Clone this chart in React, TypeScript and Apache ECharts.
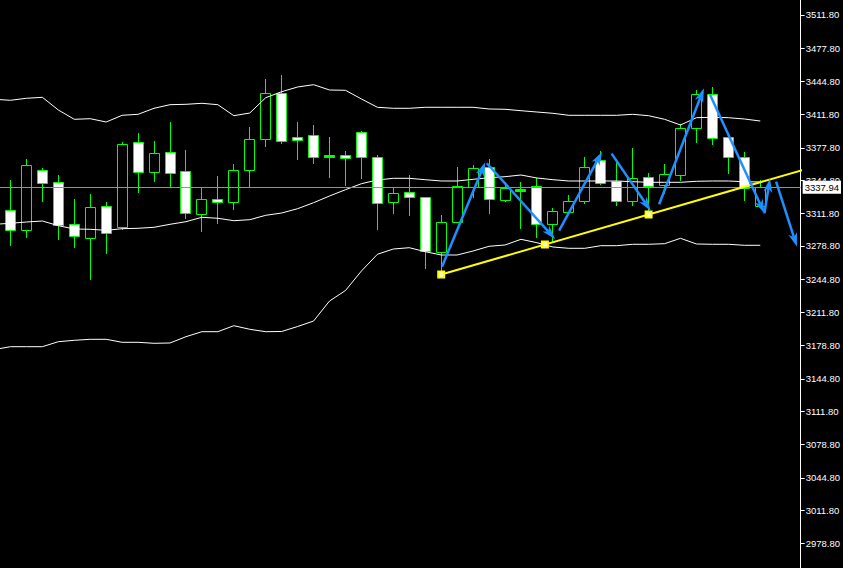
import React, { useEffect, useRef } from "react";
import * as echarts from "echarts";

// ---- Candles (index 0..47) ----
const opens = [3314.76, 3294.58, 3355.11, 3343.01, 3300.63, 3287.11, 3318.79, 3298.22, 3383.36, 3353.70, 3373.27, 3354.11, 3311.33, 3325.86, 3322.83, 3355.72, 3386.39, 3432.80, 3388.71, 3390.43, 3370.00, 3370.55, 3393.45, 3368.23, 3323.43, 3332.92, 3327.87, 3272.99, 3303.26, 3338.57, 3358.14, 3325.45, 3335.24, 3338.97, 3301.24, 3313.35, 3324.44, 3365.20, 3344.02, 3324.44, 3348.05, 3339.98, 3350.07, 3397.49, 3431.79, 3388.41, 3368.23, 3319.40];
const closes = [3294.58, 3360.16, 3342.00, 3300.23, 3288.53, 3317.79, 3291.55, 3381.35, 3353.10, 3372.27, 3352.69, 3311.73, 3325.86, 3322.83, 3355.11, 3386.39, 3432.80, 3384.98, 3385.99, 3368.84, 3370.00, 3367.83, 3368.84, 3322.43, 3331.91, 3327.87, 3274.00, 3302.95, 3338.97, 3357.13, 3325.86, 3336.95, 3335.24, 3301.24, 3313.75, 3323.84, 3358.14, 3342.60, 3324.44, 3347.04, 3338.97, 3351.08, 3397.49, 3431.79, 3387.40, 3368.23, 3336.95, 3337.94];
const lows = [3279.04, 3287.11, 3323.43, 3285.10, 3277.03, 3244.74, 3270.97, 3295.19, 3332.51, 3343.61, 3337.96, 3305.98, 3293.17, 3301.24, 3315.06, 3338.27, 3378.92, 3381.65, 3365.51, 3361.47, 3347.35, 3339.27, 3346.34, 3294.88, 3311.03, 3309.31, 3255.54, 3250.49, 3302.25, 3326.87, 3311.03, 3323.13, 3295.89, 3286.51, 3283.08, 3313.04, 3321.11, 3340.28, 3319.40, 3319.40, 3313.35, 3331.51, 3344.32, 3382.96, 3380.64, 3351.08, 3324.44, 3319.40];
const highs = [3345.03, 3366.51, 3357.13, 3350.37, 3326.16, 3331.20, 3323.13, 3383.67, 3392.75, 3384.68, 3403.84, 3375.59, 3337.96, 3349.36, 3361.47, 3398.80, 3447.23, 3451.26, 3403.84, 3400.82, 3388.71, 3374.59, 3394.76, 3370.55, 3337.56, 3350.37, 3328.18, 3310.02, 3358.44, 3360.46, 3366.51, 3343.61, 3343.31, 3347.04, 3317.38, 3330.19, 3368.53, 3374.59, 3366.51, 3377.61, 3352.09, 3361.17, 3401.52, 3436.13, 3439.16, 3388.41, 3373.27, 3345.03];

// ---- Bollinger bands (bar index -1..47) ----
const BAND_START = -1;
const bbUpper = [3426.75, 3425.74, 3427.76, 3428.76, 3415.95, 3406.57, 3407.17, 3403.84, 3410.60, 3411.61, 3417.67, 3421.30, 3421.70, 3422.71, 3421.30, 3410.20, 3412.92, 3428.36, 3434.41, 3439.16, 3441.48, 3436.13, 3435.83, 3427.05, 3418.68, 3417.67, 3417.67, 3418.68, 3418.68, 3418.68, 3418.68, 3416.96, 3416.66, 3415.24, 3413.93, 3412.62, 3410.60, 3410.60, 3410.60, 3410.60, 3411.61, 3410.20, 3406.57, 3400.82, 3408.18, 3408.59, 3408.18, 3406.87, 3404.85];
const bbMiddle = [3300.63, 3301.64, 3302.95, 3303.96, 3299.22, 3295.89, 3295.59, 3294.58, 3296.19, 3296.60, 3297.61, 3300.63, 3303.26, 3307.70, 3306.69, 3304.27, 3305.27, 3309.71, 3312.03, 3316.37, 3322.43, 3329.19, 3335.54, 3341.60, 3345.33, 3347.04, 3347.04, 3345.63, 3344.32, 3344.32, 3346.03, 3347.65, 3348.66, 3350.37, 3347.35, 3345.63, 3344.32, 3344.32, 3344.32, 3344.32, 3343.61, 3343.01, 3343.01, 3343.01, 3344.02, 3344.32, 3344.32, 3343.61, 3343.31];
const bbLower = [3174.32, 3177.14, 3177.14, 3177.14, 3182.19, 3183.60, 3184.61, 3184.61, 3181.58, 3181.58, 3180.57, 3180.88, 3187.23, 3192.28, 3192.28, 3198.33, 3194.70, 3192.28, 3192.48, 3197.52, 3203.07, 3223.25, 3233.84, 3253.52, 3270.37, 3275.71, 3277.03, 3272.99, 3269.66, 3269.66, 3273.70, 3278.44, 3279.75, 3285.50, 3282.07, 3277.73, 3276.42, 3276.42, 3279.04, 3279.04, 3280.46, 3280.46, 3281.06, 3286.51, 3280.76, 3280.46, 3280.46, 3279.45, 3279.45];

// ---- Current price ----
const currentPrice = 3337.94;

// ---- Trend line anchors [bar index, price] ----
const trendAnchors = [
  [27, 3250.0],
  [40, 3310.5],
];

// ---- Blue arrows [fromIndex, fromPrice, toIndex, toPrice] ----
const arrows = [
  [27.05, 3257.9, 29.76, 3363.2],
  [29.86, 3362.2, 34.14, 3285.8],
  [34.39, 3294.2, 37.09, 3373.9],
  [37.68, 3371.9, 40.14, 3314.1],
  [40.66, 3320.8, 43.47, 3437.9],
  [43.86, 3431.1, 47.26, 3311.7],
  [47.26, 3311.7, 47.61, 3347.0],
  [47.99, 3343.6, 49.3, 3278.0],
];

// ---- Price axis ticks ----
const yTicks = [2978.8, 3011.8, 3044.8, 3078.8, 3111.8, 3144.8, 3178.8, 3211.8, 3244.8, 3278.8, 3311.8, 3344.8, 3377.8, 3411.8, 3444.8, 3477.8, 3511.8];

const X_MIN = -0.65625;
const X_MAX = 49.53125;
const Y_MIN = 2953.87;
const Y_MAX = 3526.93;

const GREEN = "#00ff00";
const BLUE = "#1e90ff";
const YELLOW = "#ffff00";

export default function App() {
  const ref = useRef<HTMLDivElement>(null);

  useEffect(() => {
    if (!ref.current) return;
    const chart = echarts.init(ref.current, undefined, { renderer: "svg" });

    const candles = opens.map((o, i) => [i, o, closes[i], lows[i], highs[i]]);
    const band = (arr: number[]) => arr.map((v, k) => [k + BAND_START, v]);

    const [a0, a1] = trendAnchors;
    const slope = (a1[1] - a0[1]) / (a1[0] - a0[0]);
    const trendEndX = X_MAX + 0.5;
    const trendLine = [a0, [trendEndX, a0[1] + slope * (trendEndX - a0[0])]];
    const trendMarkers = [a0, [(a0[0] + a1[0]) / 2, (a0[1] + a1[1]) / 2], a1];

    const option: any = {
      animation: false,
      backgroundColor: "#000000",
      grid: { left: 0, right: 40, top: 0, bottom: 0, containLabel: false },
      xAxis: { type: "value", min: X_MIN, max: X_MAX, show: false },
      yAxis: {
        type: "value",
        position: "right",
        min: Y_MIN,
        max: Y_MAX,
        scale: true,
        splitLine: { show: false },
        axisLine: { show: true, onZero: false, lineStyle: { color: "#ffffff", width: 1 } },
        axisTick: {
          show: true,
          length: 4,
          inside: false,
          customValues: yTicks,
          lineStyle: { color: "#ffffff" },
        },
        axisLabel: {
          show: true,
          customValues: yTicks,
          formatter: (v: number) => v.toFixed(2),
          color: "#ffffff",
          fontSize: 9.5,
          fontFamily: "Liberation Sans",
          margin: 5,
        },
      },
      series: [
        {
          type: "line",
          data: [
            [X_MIN, currentPrice],
            [X_MAX, currentPrice],
          ],
          showSymbol: false,
          lineStyle: { width: 0, opacity: 0 },
          silent: true,
          z: 1,
          markLine: {
            silent: true,
            symbol: ["none", "none"],
            lineStyle: { color: "#8c939b", width: 1, type: "solid" },
            label: {
              show: true,
              position: "end",
              distance: 2,
              formatter: currentPrice.toFixed(2),
              color: "#000000",
              backgroundColor: "#ffffff",
              padding: [2, 2, 1, 2],
              fontSize: 9.5,
              fontFamily: "Liberation Sans",
            },
            data: [{ yAxis: currentPrice }],
          },
        },
        {
          type: "custom",
          z: 3,
          encode: { x: 0, y: [1, 2, 3, 4] },
          data: candles,
          renderItem: (_params: any, api: any) => {
            const x = api.value(0);
            const o = api.value(1);
            const c = api.value(2);
            const l = api.value(3);
            const h = api.value(4);
            const pO = api.coord([x, o]);
            const pC = api.coord([x, c]);
            const pL = api.coord([x, l]);
            const pH = api.coord([x, h]);
            const cx = Math.round(pO[0] - 0.5) + 0.5;
            const top = Math.round(Math.min(pO[1], pC[1])) + 0.5;
            const bot = Math.round(Math.max(pO[1], pC[1])) + 0.5;
            const children: any[] = [
              {
                type: "line",
                shape: { x1: cx, y1: Math.round(pH[1]), x2: cx, y2: Math.round(pL[1]) },
                style: { stroke: GREEN, lineWidth: 1 },
              },
            ];
            if (bot - top < 1) {
              children.push({
                type: "rect",
                shape: { x: cx - 5, y: top - 1, width: 10, height: 2 },
                style: { fill: GREEN, stroke: GREEN, lineWidth: 1 },
              });
            } else {
              children.push({
                type: "rect",
                shape: { x: cx - 5, y: top, width: 10, height: bot - top },
                style: { fill: c < o ? "#ffffff" : "#000000", stroke: GREEN, lineWidth: 1 },
              });
            }
            return { type: "group", children };
          },
        },
        ...[bbUpper, bbMiddle, bbLower].map((arr) => ({
          type: "line",
          data: band(arr),
          showSymbol: false,
          symbol: "none",
          silent: true,
          z: 4,
          lineStyle: { color: "#ffffff", width: 1 },
        })),
        {
          type: "line",
          data: trendLine,
          showSymbol: false,
          symbol: "none",
          silent: true,
          z: 5,
          lineStyle: { color: YELLOW, width: 2 },
        },
        {
          type: "scatter",
          data: trendMarkers,
          symbol: "rect",
          symbolSize: 6,
          silent: true,
          z: 6,
          itemStyle: { color: "#fffde0", borderColor: YELLOW, borderWidth: 2, opacity: 1 },
        },
        {
          type: "custom",
          z: 7,
          encode: { x: [0, 2], y: [1, 3] },
          data: arrows,
          renderItem: (_params: any, api: any) => {
            const p1 = api.coord([api.value(0), api.value(1)]);
            const p2 = api.coord([api.value(2), api.value(3)]);
            const dx = p2[0] - p1[0];
            const dy = p2[1] - p1[1];
            const len = Math.hypot(dx, dy) || 1;
            const ux = dx / len;
            const uy = dy / len;
            const nx = -uy;
            const ny = ux;
            const L = 14;
            const W = 4.5;
            const N = 10;
            const base = [p2[0] - ux * L, p2[1] - uy * L];
            const notch = [p2[0] - ux * N, p2[1] - uy * N];
            return {
              type: "group",
              children: [
                {
                  type: "line",
                  shape: { x1: p1[0], y1: p1[1], x2: notch[0], y2: notch[1] },
                  style: { stroke: BLUE, lineWidth: 2.5 },
                },
                {
                  type: "polygon",
                  shape: {
                    points: [
                      [p2[0], p2[1]],
                      [base[0] + nx * W, base[1] + ny * W],
                      notch,
                      [base[0] - nx * W, base[1] - ny * W],
                    ],
                  },
                  style: { fill: BLUE },
                },
              ],
            };
          },
        },
      ],
    };

    chart.setOption(option);
    return () => chart.dispose();
  }, []);

  return (
    <div
      ref={ref}
      style={{ position: "fixed", left: 0, top: 0, width: 843, height: 568, background: "#000" }}
    />
  );
}
